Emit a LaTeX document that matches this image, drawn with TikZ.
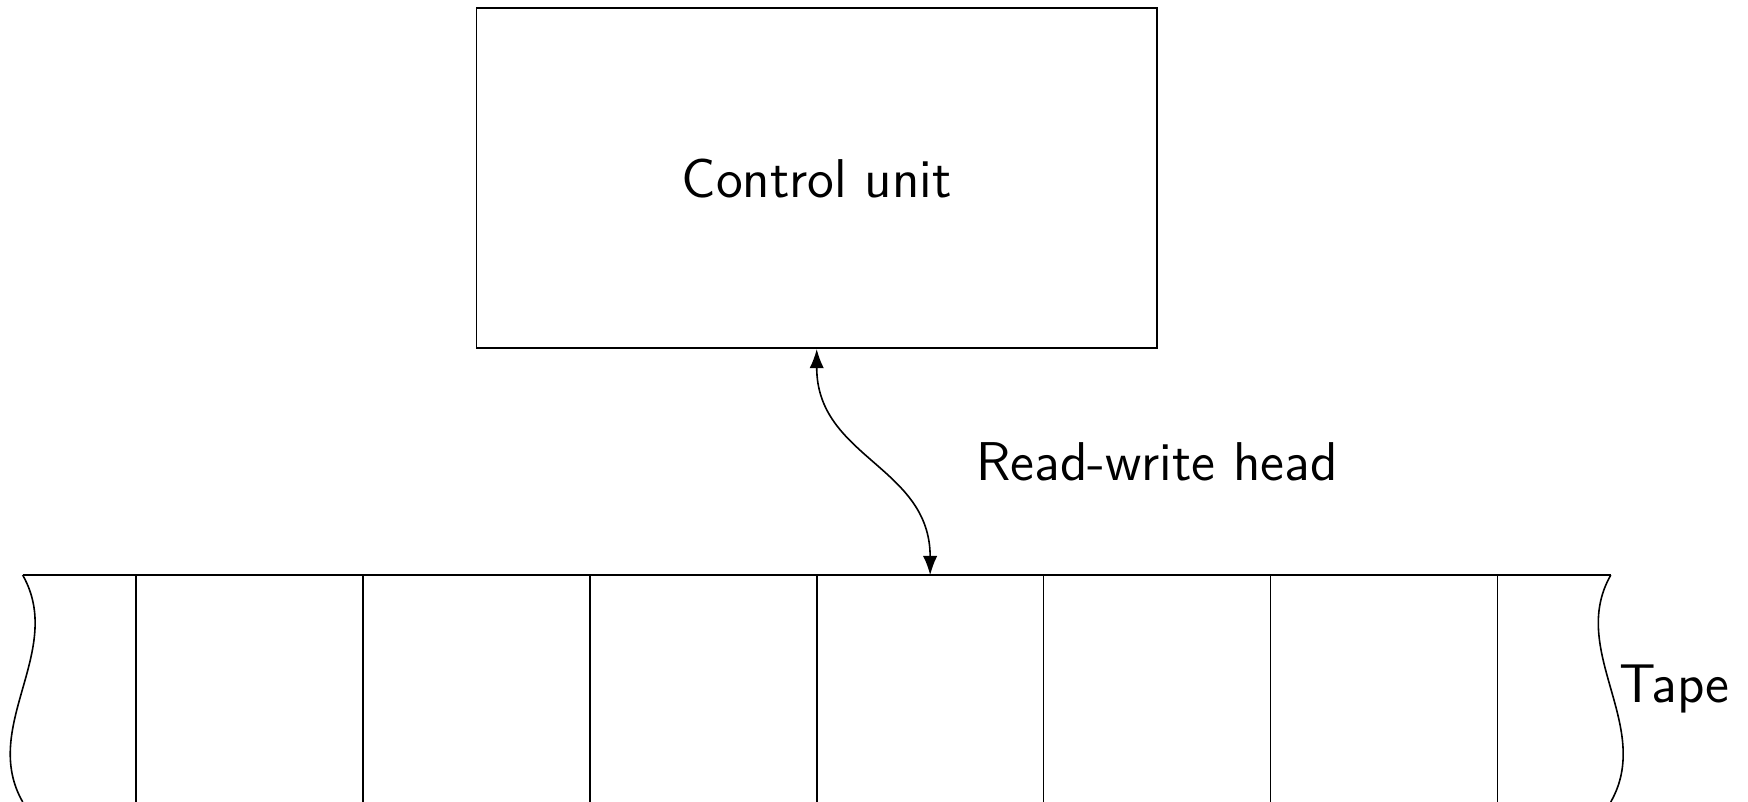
\documentclass[tikz,border=0pt]{standalone}
\usepackage{tikz}
\usetikzlibrary{positioning, arrows.meta, calc}

\begin{document}
\begin{tikzpicture}[
  font=\sffamily\fontsize{13.7}{16}\selectfont,
  unitbox/.style={draw, minimum width=6cm, minimum height=3cm, inner sep=0pt},
  arrow/.style={{Latex}-{Latex}},
  lbl/.style={inner sep=2pt},
]
  \useasboundingbox (0,0) rectangle (15.41,7.07);

  % Control unit
  \node[unitbox] (cu) at (7.2,5.5) {Control unit};

  % Tape
  \coordinate (tl) at (0.2,2);
  \coordinate (tr) at (14.2,2);
  \coordinate (bl) at (0.2,0);
  \coordinate (br) at (14.2,0);
  \draw (tl) -- (tr);
  \draw (tl) .. controls (0.58,1.333) and (-0.18,0.667) .. (bl);
  \draw (tr) .. controls (13.82,1.333) and (14.58,0.667) .. (br);
  \foreach \i in {0,...,6}
    \draw (1.2+2*\i,2) coordinate (cell\i) -- (1.2+2*\i,0);
  \coordinate (head) at ($(cell3)!0.5!(cell4)$);
  \node[lbl, anchor=west] (tape) at (14.2,1) {Tape};

  % Read-write head
  \draw[arrow] (cu.south) to[out=-90, in=90, looseness=1.1] (head);
  \node[lbl] (rw) at (10.2,3) {Read-write head};
\end{tikzpicture}
\end{document}
